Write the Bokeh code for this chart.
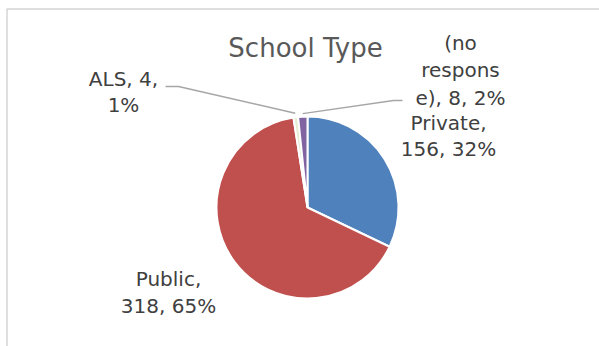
import numpy as np
from bokeh.plotting import figure
from bokeh.models import Range1d, ColumnDataSource
from bokeh.core.properties import value
from bokeh.embed import file_html
from bokeh.resources import INLINE

# ---- data ----
categories = ["Private", "Public", "ALS", "(no response)"]
counts = [156, 318, 4, 8]
colors = ["#4F81BD", "#C0504D", "#E6EDD3", "#8064A2"]
title_text = "School Type"

W, H = 599, 346
def Y(y):
    return H - y

# layout
CX, CY, R = 307, Y(207), 91

total = sum(counts)
fr = np.array(counts) / total
cum_end = np.cumsum(fr)
cum_start = cum_end - fr
start_angle = np.pi / 2 - cum_start * 2 * np.pi
end_angle = np.pi / 2 - cum_end * 2 * np.pi
pct = [f"{round(f*100):d}%" for f in fr]

p = figure(width=W, height=H, output_backend="svg", toolbar_location=None,
           x_range=Range1d(0, W), y_range=Range1d(0, H),
           x_axis_location=None, y_axis_location=None, min_border=0,
           background_fill_color="white", border_fill_color="white")
p.grid.visible = False
p.outline_line_color = None

# chart border
p.quad(left=[6.5], right=[W + 5], top=[Y(8.5)], bottom=[-5], fill_color=None,
       line_color="#D4D4D4", line_width=1.5)

src = ColumnDataSource(dict(start=start_angle, end=end_angle, color=colors, cat=categories))
p.wedge(x=CX, y=CY, radius=R, start_angle="start", end_angle="end", direction="clock",
        fill_color="color", line_color="white", line_width=2, source=src)

font = value("DejaVu Sans")
p.text(x=[305], y=[Y(47)], text=[title_text], text_font=font, text_font_size=value("26px"),
       text_color="#595959", text_align="center", text_baseline="middle")

LBL = dict(text_font=font, text_font_size=value("20px"), text_color="#404040",
           text_align="center", text_baseline="middle")

# label lines per slice
labels = [
    (448, [122, 148], [f"{categories[0]},", f"{counts[0]}, {pct[0]}"]),
    (168, [278, 305], [f"{categories[1]},", f"{counts[1]}, {pct[1]}"]),
    (123, [78, 104], [f"{categories[2]}, {counts[2]},", pct[2]]),
    (460, [42, 69, 97], ["(no", "respons", f"e), {counts[3]}, {pct[3]}"]),
]
for x, ys, lines in labels:
    p.text(x=[x] * len(lines), y=[Y(v) for v in ys], text=lines, **LBL)

# leader lines from slice mid-angles
mid = np.pi / 2 - (cum_start + fr / 2) * 2 * np.pi
def edge(i, rr):
    return CX + rr * np.cos(mid[i]), CY + rr * np.sin(mid[i])

ax, ay = edge(2, R + 4)
p.line(x=[165, 178, ax], y=[Y(86), Y(86), ay], line_color="#A6A6A6", line_width=1.5)
nx, ny = edge(3, R + 3)
p.line(x=[nx, 393, 402], y=[ny, Y(100), Y(100)], line_color="#A6A6A6", line_width=1.5)

open("out.html", "w").write(file_html(p, INLINE))
